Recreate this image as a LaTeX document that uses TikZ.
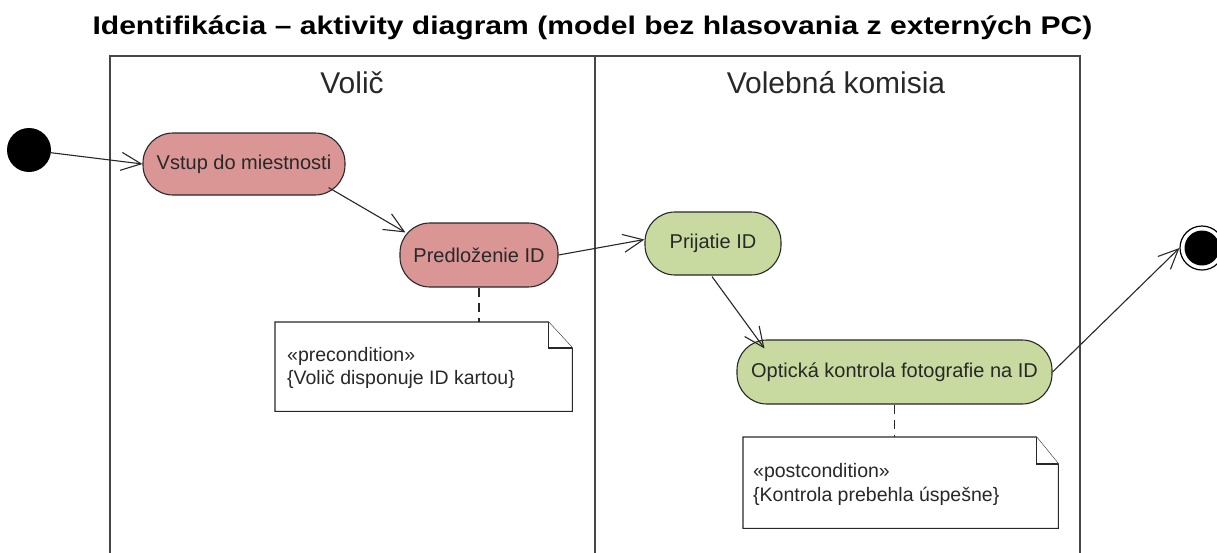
\documentclass[tikz,border=0pt]{standalone}
\usepackage{fontspec}
\setmainfont{Liberation Sans}
\usetikzlibrary{arrows.meta,calc}
\definecolor{inkcol}{RGB}{40,40,40}
\definecolor{lanecol}{RGB}{70,70,70}
\definecolor{voterfill}{RGB}{217,150,148}
\definecolor{commfill}{RGB}{200,218,160}
\begin{document}
\begin{tikzpicture}[x=1pt,y=-1pt,
  lane/.style={draw=lanecol, line width=1.3pt},
  lanetitle/.style={anchor=base, text=inkcol, font=\fontsize{30}{34}\selectfont},
  action/.style={draw=inkcol, line width=1.1pt, rounded corners=30pt, inner sep=0pt,
    text=inkcol, font=\fontsize{20}{24}\selectfont},
  flow/.style={draw=inkcol, line width=1.1pt, -{Straight Barb[length=20pt,width=18pt]}},
  notelink/.style={draw=inkcol, line width=1.1pt, dash pattern=on 9pt off 6pt},
  noteshape/.style={draw=none, inner sep=0pt, anchor=north west},
  notetext/.style={anchor=base west, inner sep=0pt, text=inkcol, font=\fontsize{19.5}{23}\selectfont},
  notedraw/.style={draw=inkcol, line width=1.1pt, fill=white}
]
\useasboundingbox (0,0) rectangle (1217,552);

% title
\node[anchor=base, text=black, inner sep=0pt, font=\bfseries\fontsize{25.5}{30}\selectfont] (title) at (592.5,34)
  {\scalebox{1.18}[1]{Identifikácia – aktivity diagram (model bez hlasovania z externých PC)}};

% swimlanes
\draw[lane] (110,560) -- (110,56) -- (1080,56) -- (1080,560);
\draw[lane] (595,56) -- (595,560);
\node[lanetitle] (laneA) at (352,93) {Volič};
\node[lanetitle] (laneB) at (836,93) {Volebná komisia};

% initial and final nodes
\node[circle, fill=black, minimum size=44pt, inner sep=0pt] (start) at (29,150) {};
\node[circle, draw=black, line width=1.2pt, fill=white, minimum size=44pt, inner sep=0pt] (end) at (1202,248) {};
\fill[black] (end.center) circle (17.5pt);

% actions
\node[action, fill=voterfill, minimum width=202pt, minimum height=62pt] (vstup) at (244,164) {Vstup do miestnosti};
\node[action, fill=voterfill, minimum width=158pt, minimum height=64pt] (pred) at (479,255) {Predloženie ID};
\node[action, fill=commfill, minimum width=136pt, minimum height=63pt] (prij) at (713,243.5) {Prijatie ID};
\node[action, fill=commfill, minimum width=315pt, minimum height=64pt] (opt) at (894.5,372) {Optická kontrola fotografie na ID};

% notes
\node[noteshape, minimum width=297pt, minimum height=89pt] (pre) at (275,322) {};
\draw[notedraw] (pre.north west) -- ($(pre.north east)+(-24,0)$) -- ($(pre.north east)+(0,26)$)
  -- (pre.south east) -- (pre.south west) -- cycle;
\draw[notedraw] ($(pre.north east)+(-24,0)$) |- ($(pre.north east)+(0,26)$);
\node[notetext] (preA) at (287,361) {«precondition»};
\node[notetext] (preB) at (287,384) {\{Volič disponuje ID kartou\}};

\node[noteshape, minimum width=315pt, minimum height=91pt] (post) at (743,437) {};
\draw[notedraw] (post.north west) -- ($(post.north east)+(-22,0)$) -- ($(post.north east)+(0,27)$)
  -- (post.south east) -- (post.south west) -- cycle;
\draw[notedraw] ($(post.north east)+(-22,0)$) |- ($(post.north east)+(0,27)$);
\node[notetext] (postA) at (753,477) {«postcondition»};
\node[notetext] (postB) at (753,501) {\{Kontrola prebehla úspešne\}};

% note anchors
\draw[notelink] (pred.south) -- (pred.south |- pre.north);
\draw[notelink] (opt.south) -- (opt.south |- post.north);

% control flow
\draw[flow] (start) -- (vstup.west);
\draw[flow] ($(vstup.south east)+(-17,-8)$) -- ($(pred.north west)+(6,10)$);
\draw[flow] (pred.east) -- ($(prij.west)+(0,-4)$);
\draw[flow] ($(prij.south)+(-1,1)$) -- ($(opt.north west)+(28,9)$);
\draw[flow] (opt.east) -- (end.west);
\end{tikzpicture}
\end{document}
